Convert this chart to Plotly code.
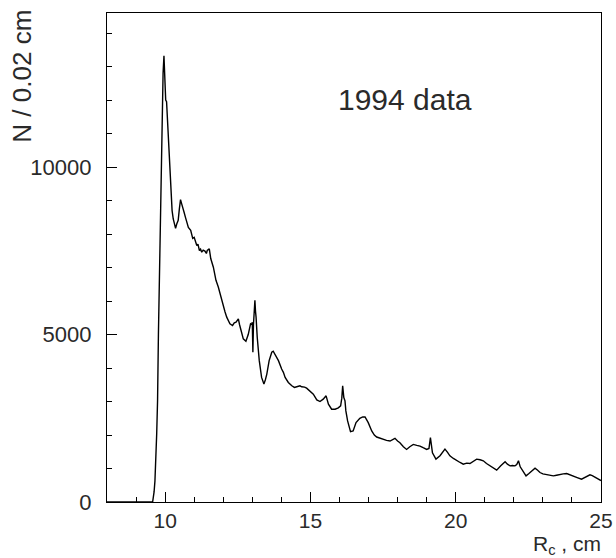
import plotly.graph_objects as go

# Histogram of R_c (N per 0.02 cm)
r_cm = [8.0, 9.5, 9.57, 9.62, 9.65, 9.71, 9.74, 9.77, 9.79, 9.82, 9.88, 9.93, 9.96, 9.98,
        10.0, 10.02, 10.05, 10.11, 10.19, 10.24, 10.28, 10.32, 10.36, 10.40, 10.45, 10.49,
        10.53, 10.57, 10.61, 10.65, 10.70, 10.74, 10.80, 10.88, 10.95, 11.0, 11.03, 11.09,
        11.13, 11.18, 11.22, 11.26, 11.31, 11.37, 11.42, 11.45, 11.52, 11.57, 11.66, 11.75,
        11.83, 11.89, 11.95, 12.0, 12.06, 12.12, 12.18, 12.23, 12.32, 12.38, 12.44, 12.52,
        12.56, 12.6, 12.69, 12.78, 12.86, 12.94, 12.98, 13.0, 13.02, 13.04, 13.07, 13.09,
        13.11, 13.13, 13.17, 13.24, 13.32, 13.40, 13.45, 13.5, 13.58, 13.67, 13.72, 13.77,
        13.82, 13.9, 14.01, 14.07, 14.13, 14.24, 14.36, 14.45, 14.53, 14.64, 14.7, 14.8,
        14.87, 14.99, 15.05, 15.1, 15.22, 15.33, 15.44, 15.54, 15.62, 15.73, 15.85, 15.96,
        16.04, 16.08, 16.11, 16.15, 16.19, 16.22, 16.28, 16.38, 16.47, 16.57, 16.7, 16.8,
        16.88, 16.99, 17.11, 17.2, 17.28, 17.4, 17.51, 17.62, 17.74, 17.82, 17.91, 18.0,
        18.08, 18.2, 18.31, 18.42, 18.54, 18.66, 18.77, 18.88, 19.0, 19.08, 19.13, 19.2,
        19.32, 19.46, 19.55, 19.63, 19.72, 19.8, 19.92, 20.03, 20.15, 20.26, 20.38, 20.49,
        20.6, 20.72, 20.84, 20.95, 21.06, 21.18, 21.3, 21.41, 21.55, 21.7, 21.78, 21.87,
        21.95, 22.04, 22.1, 22.16, 22.22, 22.27, 22.35, 22.42, 22.52, 22.61, 22.73, 22.82,
        22.9, 23.0, 23.13, 23.25, 23.36, 23.47, 23.59, 23.7, 23.82, 23.93, 24.04, 24.18,
        24.33, 24.48, 24.62, 24.7, 24.79, 24.9, 24.96, 25.0]

counts = [0, 0, 0, 300, 630, 2030, 3020, 5030, 6020, 8110, 10800, 12800, 13320, 13000,
          12600, 12000, 11950, 10800, 9300, 8700, 8450, 8250, 8170, 8300, 8410, 8750,
          9030, 8900, 8800, 8660, 8500, 8360, 8200, 8110, 7870, 7900, 7810, 7660,
          7700, 7510, 7550, 7460, 7520, 7490, 7420, 7510, 7560, 7270, 7010, 6620,
          6420, 6220, 6050, 5820, 5680, 5520, 5420, 5320, 5270, 5350, 5370, 5470,
          5300, 5170, 4870, 4800, 5000, 5320, 5300, 5370, 4470, 5300, 5800, 6020,
          5700, 5520, 4920, 4220, 3720, 3520, 3650, 3820, 4220, 4470, 4500, 4420,
          4320, 4220, 3970, 3870, 3720, 3570, 3470, 3420, 3440, 3470, 3440, 3430,
          3400, 3320, 3270, 3220, 3050, 3000, 3070, 3170, 2920, 2770, 2770, 2810,
          2870, 3100, 3470, 3120, 3020, 2720, 2420, 2100, 2120, 2370, 2500, 2540,
          2540, 2370, 2120, 2000, 1940, 1900, 1870, 1840, 1820, 1860, 1900, 1820,
          1770, 1650, 1570, 1650, 1720, 1690, 1670, 1620, 1570, 1600, 1920, 1470,
          1280, 1380, 1500, 1580, 1480, 1380, 1300, 1230, 1180, 1130, 1160, 1150,
          1220, 1280, 1260, 1230, 1150, 1080, 1000, 950, 1080, 1200, 1130, 1080,
          1090, 1080, 1120, 1230, 1050, 980, 860, 780, 850, 930, 1010, 950,
          880, 840, 810, 790, 780, 800, 830, 840, 850, 820, 780, 730,
          680, 750, 810, 790, 750, 700, 650, 640]

x_range = [8, 25]
y_range = [0, 14600]
x_tickvals = [10, 15, 20, 25]
y_tickvals = [0, 5000, 10000]
label_text = "1994 data"
x_title = "R<sub>c</sub> , cm"
y_title = "N / 0.02 cm"

FONT = "Liberation Sans"
TXT = "#2a2a2a"

fig = go.Figure()
fig.add_trace(go.Scatter(x=r_cm, y=counts, mode="lines",
                         line=dict(color="black", width=1.4),
                         showlegend=False, hoverinfo="skip"))

axis_common = dict(showgrid=False, zeroline=False, showline=True, linecolor="black",
                   linewidth=1.3, mirror=True, ticks="inside", tickcolor="black",
                   tickwidth=1.2, ticklen=10)

fig.update_xaxes(range=x_range, tickmode="array", tickvals=x_tickvals,
                 ticktext=[str(v) for v in x_tickvals], ticklabelstandoff=0,
                 tickfont=dict(family=FONT, size=21, color=TXT),
                 minor=dict(tickmode="linear", tick0=0, dtick=1, ticks="inside", ticklen=5,
                            tickcolor="black", tickwidth=1.2),
                 **axis_common)
fig.update_yaxes(range=y_range, tickmode="array", tickvals=y_tickvals,
                 ticktext=[str(v) for v in y_tickvals], ticklabelstandoff=10,
                 tickfont=dict(family=FONT, size=22, color=TXT),
                 minor=dict(tickmode="linear", tick0=0, dtick=1000, ticks="inside", ticklen=5,
                            tickcolor="black", tickwidth=1.2),
                 **axis_common)

fig.add_annotation(text=label_text, x=0.603, y=0.823, xref="paper", yref="paper",
                   showarrow=False, xanchor="center", yanchor="middle",
                   font=dict(family=FONT, size=30, color=TXT))
fig.add_annotation(text=x_title, x=1.005, y=-0.057, xref="paper", yref="paper",
                   showarrow=False, xanchor="right", yanchor="top",
                   font=dict(family=FONT, size=21, color=TXT))
fig.add_annotation(text=y_title, x=-0.172, y=1.01, xref="paper", yref="paper",
                   showarrow=False, xanchor="center", yanchor="top", textangle=-90,
                   font=dict(family=FONT, size=26, color=TXT))

fig.update_layout(width=616, height=558, plot_bgcolor="white", paper_bgcolor="white",
                  margin=dict(l=107, r=15, t=13, b=56, autoexpand=False))

# remove the page's default body margin so the figure sits at the window origin
fig.write_html("out.html", config={"displayModeBar": False},
               post_script="document.body.style.margin='0';document.body.style.overflow='hidden';")
